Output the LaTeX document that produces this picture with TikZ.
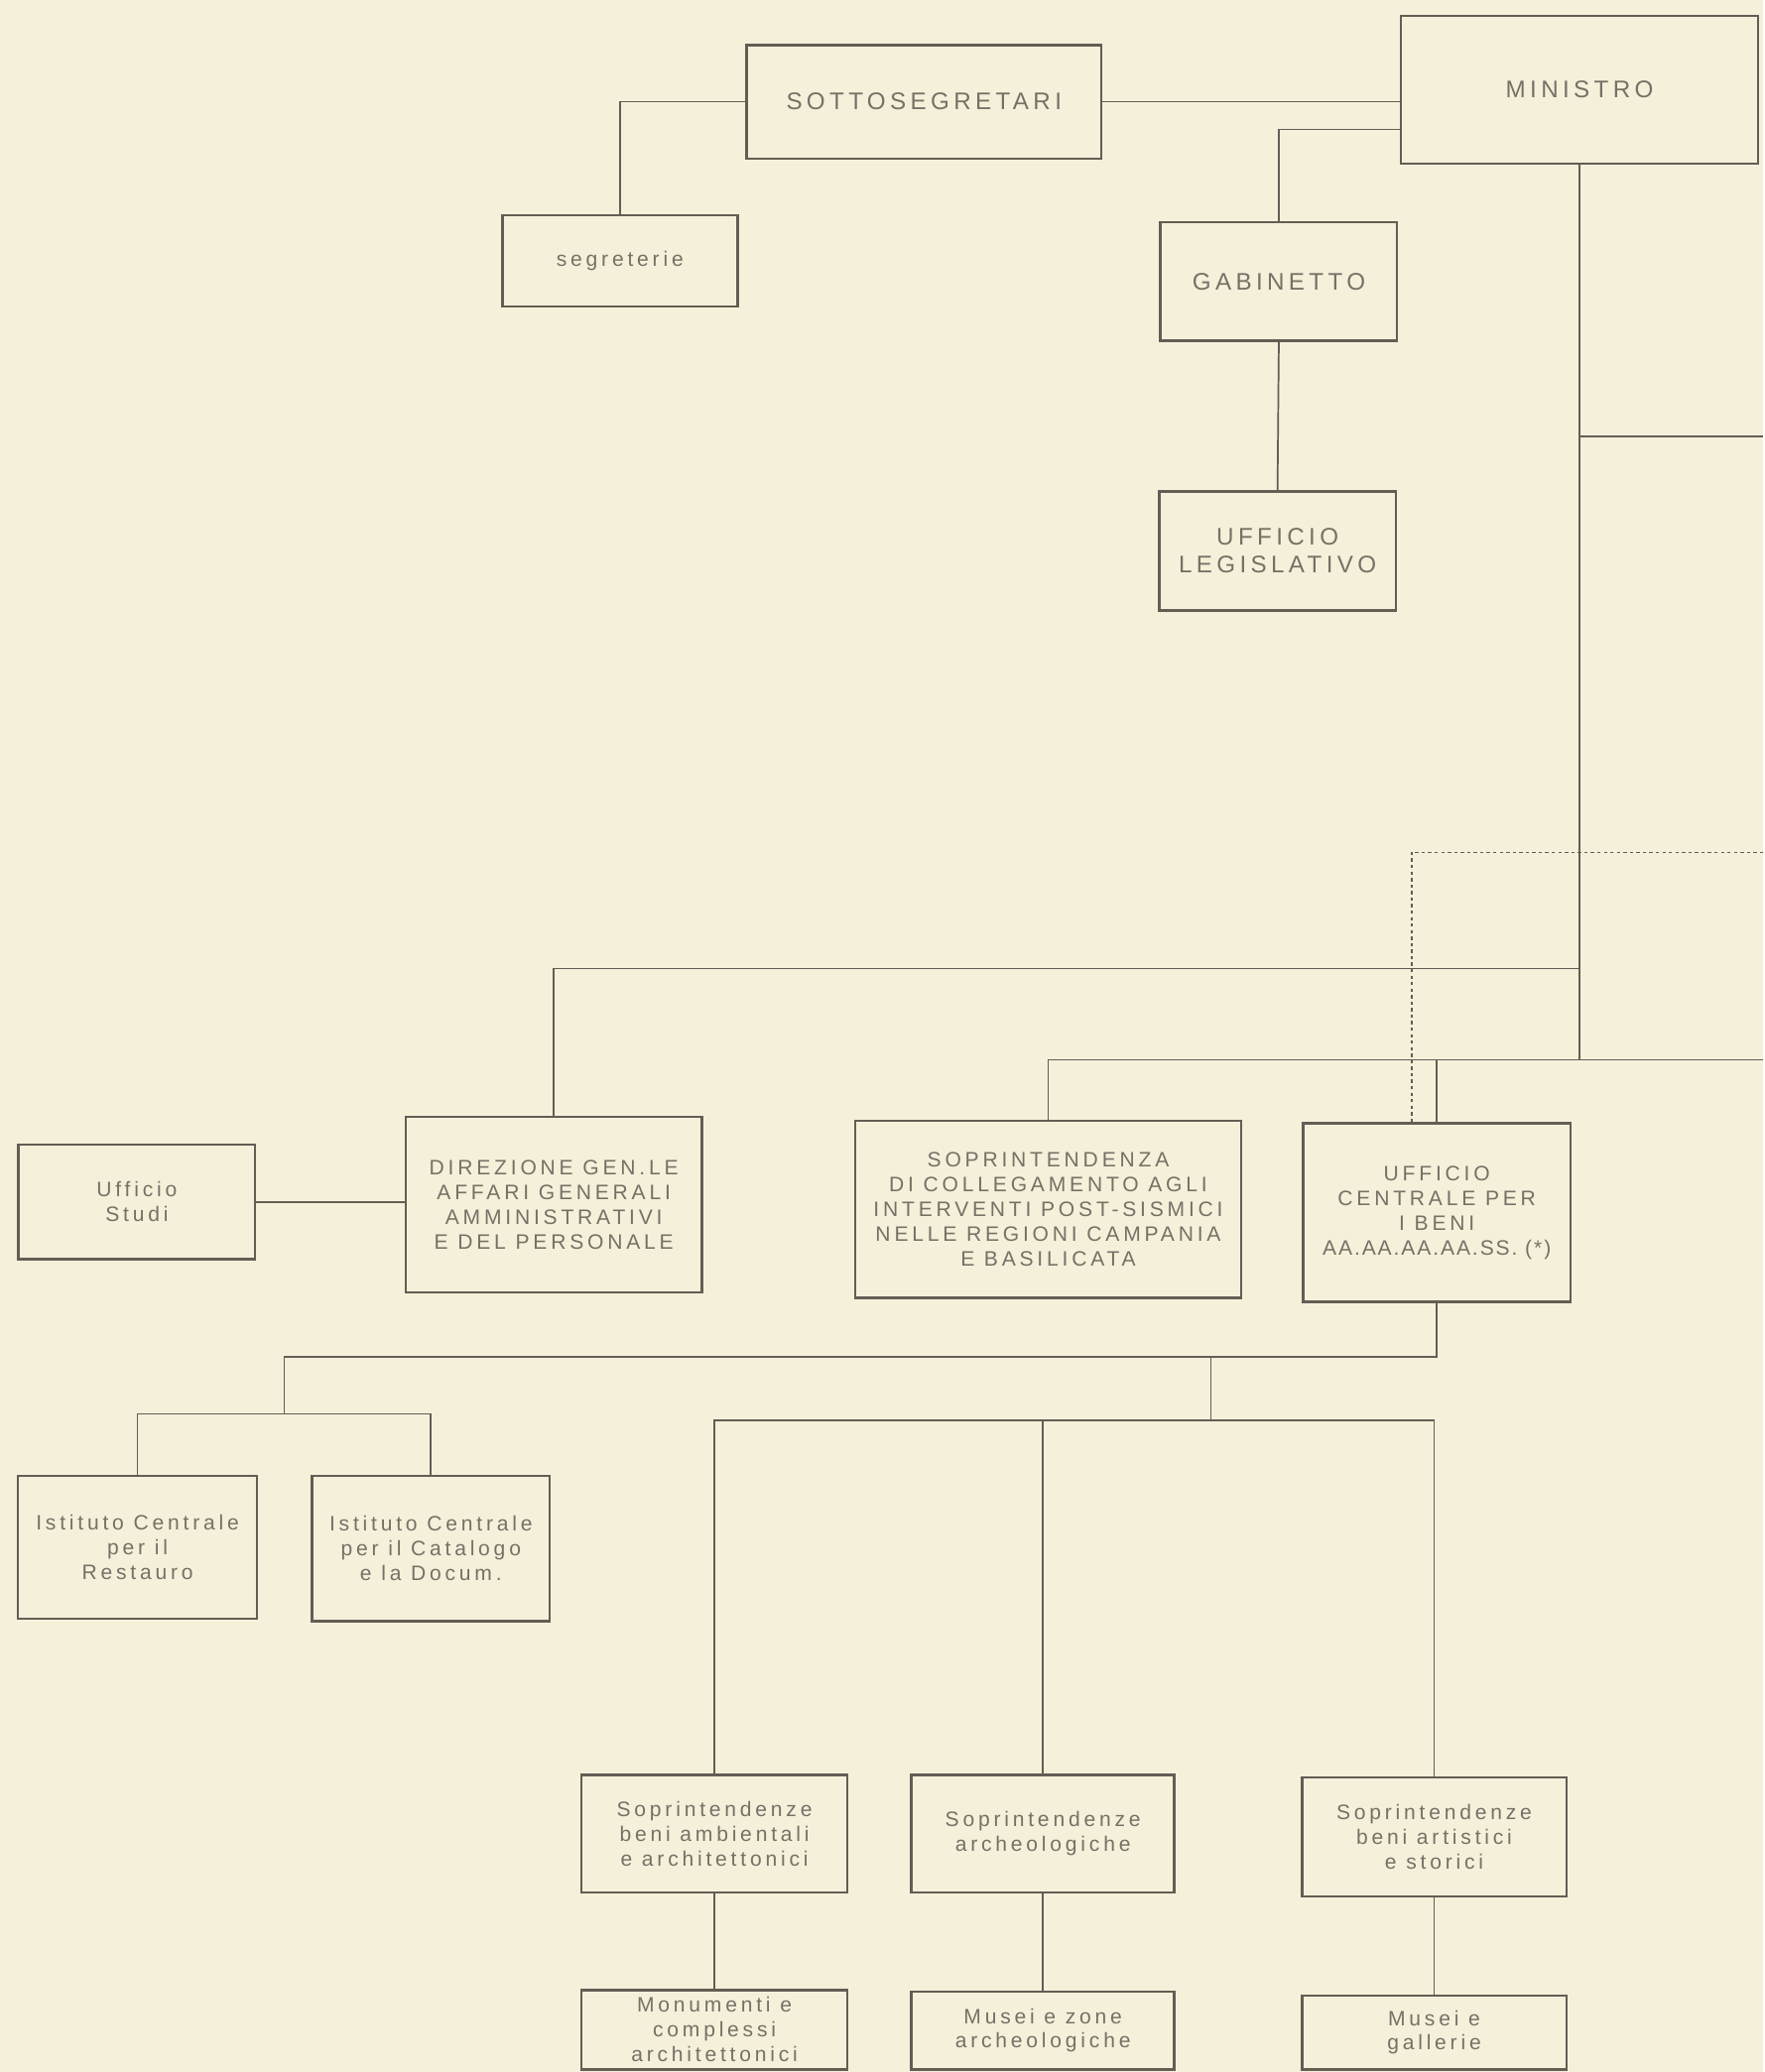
\documentclass[tikz,border=0pt]{standalone}
\usepackage{fontspec}
\setmainfont{Liberation Sans}[LetterSpace=18]
\newfontfamily\tightfont{Liberation Sans}[LetterSpace=9]
\definecolor{paper}{RGB}{245,240,218}
\definecolor{ink}{RGB}{98,94,84}
\definecolor{txt}{RGB}{118,113,102}

\begin{document}
\begin{tikzpicture}[x=0.03cm,y=-0.03cm,line width=1.1pt,
	box/.style={draw=ink,line width=1.6pt,align=center,text=txt,inner sep=1pt,
		font=\fontsize{13.5}{16}\selectfont},
	head/.style={box,font=\fontsize{15.5}{18}\selectfont},
	link/.style={draw=ink,line width=1.1pt}]
	\fill[paper] (0,0) rectangle (1334,1568);
	\node[head,minimum width=8.04cm,minimum height=2.58cm] (sotto) at (699,77) {SOTTOSEGRETARI};
	\node[head,minimum width=8.1cm,minimum height=3.36cm] (mini) at (1195,68) {MINISTRO};
	\node[box,minimum width=5.34cm,minimum height=2.07cm] (segr) at (469,197.5) {segreterie};
	\node[head,minimum width=5.37cm,minimum height=2.7cm] (gab) at (967.5,213) {GABINETTO};
	\node[head,minimum width=5.37cm,minimum height=2.7cm] (legis) at (966.5,417) {UFFICIO\\LEGISLATIVO};
	\node[box,minimum width=5.37cm,minimum height=2.61cm] (studi) at (103.5,909.5) {Ufficio\\Studi};
	\node[box,minimum width=6.72cm,minimum height=3.99cm] (dir) at (419,911.5)
		{DIREZIONE GEN.LE\\AFFARI GENERALI\\AMMINISTRATIVI\\E DEL PERSONALE};
	\node[box,minimum width=8.76cm,minimum height=4.02cm] (sopr) at (793,915)
		{SOPRINTENDENZA\\DI COLLEGAMENTO AGLI\\INTERVENTI POST-SISMICI\\NELLE REGIONI CAMPANIA\\E BASILICATA};
	\node[box,minimum width=6.06cm,minimum height=4.05cm] (uff) at (1087,917.5)
		{UFFICIO\\CENTRALE PER\\I BENI\\{\tightfont AA.AA.AA.AA.SS. (*)}};
	\node[box,minimum width=5.43cm,minimum height=3.24cm] (rest) at (104,1171) {Istituto Centrale\\per il\\Restauro};
	\node[box,minimum width=5.4cm,minimum height=3.3cm] (cata) at (326,1172) {Istituto Centrale\\per il Catalogo\\e la Docum.};
	\node[box,minimum width=6.03cm,minimum height=2.67cm] (amb) at (540.5,1387.5) {Soprintendenze\\beni ambientali\\e architettonici};
	\node[box,minimum width=5.97cm,minimum height=2.67cm] (arch) at (789,1387.5) {Soprintendenze\\archeologiche};
	\node[box,minimum width=6cm,minimum height=2.7cm] (art) at (1085,1390) {Soprintendenze\\beni artistici\\e storici};
	\node[box,minimum width=6.03cm,minimum height=1.8cm] (monu) at (540.5,1536) {Monumenti e\\complessi\\architettonici};
	\node[box,minimum width=5.97cm,minimum height=1.77cm] (muse) at (789,1536.5) {Musei e zone\\archeologiche};
	\node[box,minimum width=6cm,minimum height=1.68cm] (gall) at (1085,1538) {Musei e\\gallerie};
	\coordinate (e330) at (1334,330);
	\coordinate (e645) at (1334,645);
	\coordinate (e802) at (1334,802);
	\coordinate (j733) at (1195,733);
	\coordinate (bus) at (215,1027);
	\coordinate (ist) at (215,1070);
	\coordinate (sop) at (916,1075);
	\draw[link] (sotto.west) -| (segr.north);
	\draw[link] (sotto.east) -- (sotto.east -| mini.west);
	\draw[link] ([yshift=-0.9cm]mini.west) -| (gab.north);
	\draw[link] (gab.south) -- (legis.north);
	\draw[link] (mini.south) -- (mini.south |- e802);
	\draw[link] (mini.south |- e330) -- (e330);
	\draw[link] (j733) -| (dir.north);
	\draw[link] (e802) -| (sopr.north);
	\draw[link] (uff.north) -- (uff.north |- e802);
	\draw[link,line width=0.9pt,dash pattern=on 2.2pt off 2pt] (e645) -| ([xshift=-0.57cm]uff.north);
	\draw[link] (studi.east) -- (studi.east -| dir.west);
	\draw[link] (uff.south) |- (bus) -- (ist);
	\draw[link] (rest.north) |- (ist) -| (cata.north);
	\draw[link] (sop |- bus) -- (sop);
	\draw[link] (amb.north) |- (sop) -| (art.north);
	\draw[link] (arch.north) -- (arch.north |- sop);
	\draw[link] (amb.south) -- (monu.north);
	\draw[link] (arch.south) -- (muse.north);
	\draw[link] (art.south) -- (gall.north);
\end{tikzpicture}
\end{document}
